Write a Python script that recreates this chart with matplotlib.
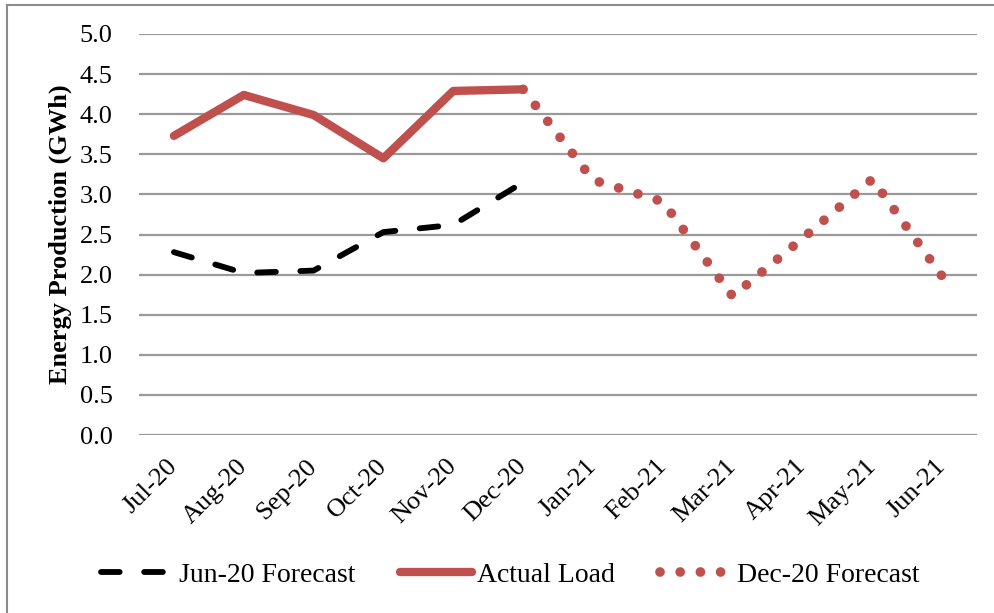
import numpy as np
import matplotlib.pyplot as plt
from matplotlib.lines import Line2D

plt.rcParams['font.family'] = ['Liberation Serif', 'DejaVu Serif']

# monthly energy production, GWh
months = ['Jul-20', 'Aug-20', 'Sep-20', 'Oct-20', 'Nov-20', 'Dec-20',
          'Jan-21', 'Feb-21', 'Mar-21', 'Apr-21', 'May-21', 'Jun-21']
jun20_forecast = [2.28, 2.02, 2.05, 2.53, 2.62, 3.15]           # Jul-20 .. Dec-20
actual_load = [3.73, 4.24, 3.99, 3.45, 4.29, 4.31]              # Jul-20 .. Dec-20
dec20_forecast = [4.31, 3.18, 2.91, 1.73, 2.45, 3.19, 1.98]     # Dec-20 .. Jun-21

red = '#C0504D'
grid_gray = '#9a9a9a'
dot_lw = 7.0

fig = plt.figure(figsize=(9.95, 6.13), dpi=100)
ax = fig.add_axes([139 / 995, 1 - 435 / 613, (977 - 139) / 995, (435 - 34) / 613])

x = np.arange(len(months))
ax.set_xlim(-0.5, len(months) - 0.5)
ax.set_ylim(0, 5)

# spread the dots so that one lands on the last point
pts = ax.transData.transform(np.column_stack([x[5:], dec20_forecast]))
path_pt = np.hypot(*np.diff(pts, axis=0).T).sum() * 72 / fig.dpi
n_gaps = round(path_pt / (2.1 * dot_lw))
step = 0.998 * path_pt / n_gaps / dot_lw

ax.plot(x[:6], jun20_forecast, color='black', lw=4.2,
        linestyle=(0, (3.2, 4.2)), dash_capstyle='round',
        solid_joinstyle='round', label='Jun-20 Forecast', zorder=3)
ax.plot(x[:6], actual_load, color=red, lw=6.0,
        solid_capstyle='round', solid_joinstyle='round',
        label='Actual Load', zorder=4)
ax.plot(x[5:], dec20_forecast, color=red, lw=dot_lw,
        linestyle=(0, (0.001, step - 0.001)), dash_capstyle='round',
        label='Dec-20 Forecast', zorder=3)

ax.set_yticks(np.arange(0, 5.01, 0.5))
ax.set_yticklabels([f'{v:.1f}' for v in np.arange(0, 5.01, 0.5)])
ax.yaxis.grid(True, color=grid_gray, lw=1.6)
ax.set_axisbelow(True)

ax.set_xticks(x)
ax.set_xticklabels(months, rotation=45, ha='right', va='center',
                   rotation_mode='anchor')
ax.tick_params(axis='x', length=0, pad=20, labelsize=19)
ax.tick_params(axis='y', length=0, pad=19, labelsize=19)

for side in ['top', 'right', 'left', 'bottom']:
    ax.spines[side].set_visible(False)

ax.set_ylabel('Energy Production (GWh)', fontsize=19, fontweight='bold')
ax.yaxis.set_label_coords(-0.080, 0.5)

fig.legend(loc='center', bbox_to_anchor=(0.513, 0.062), ncol=3,
           frameon=False, fontsize=20, handlelength=2.6,
           handletextpad=0.2, columnspacing=1.6)

# chart area border (left and top edges)
fig.add_artist(Line2D([7 / 995, 7 / 995], [0, 1 - 5 / 613],
                      transform=fig.transFigure, color='#8c8c8c', lw=1.5))
fig.add_artist(Line2D([7 / 995, 1], [1 - 5 / 613, 1 - 5 / 613],
                      transform=fig.transFigure, color='#8c8c8c', lw=1.5))

fig.savefig('out.png', dpi=100, facecolor='white')
